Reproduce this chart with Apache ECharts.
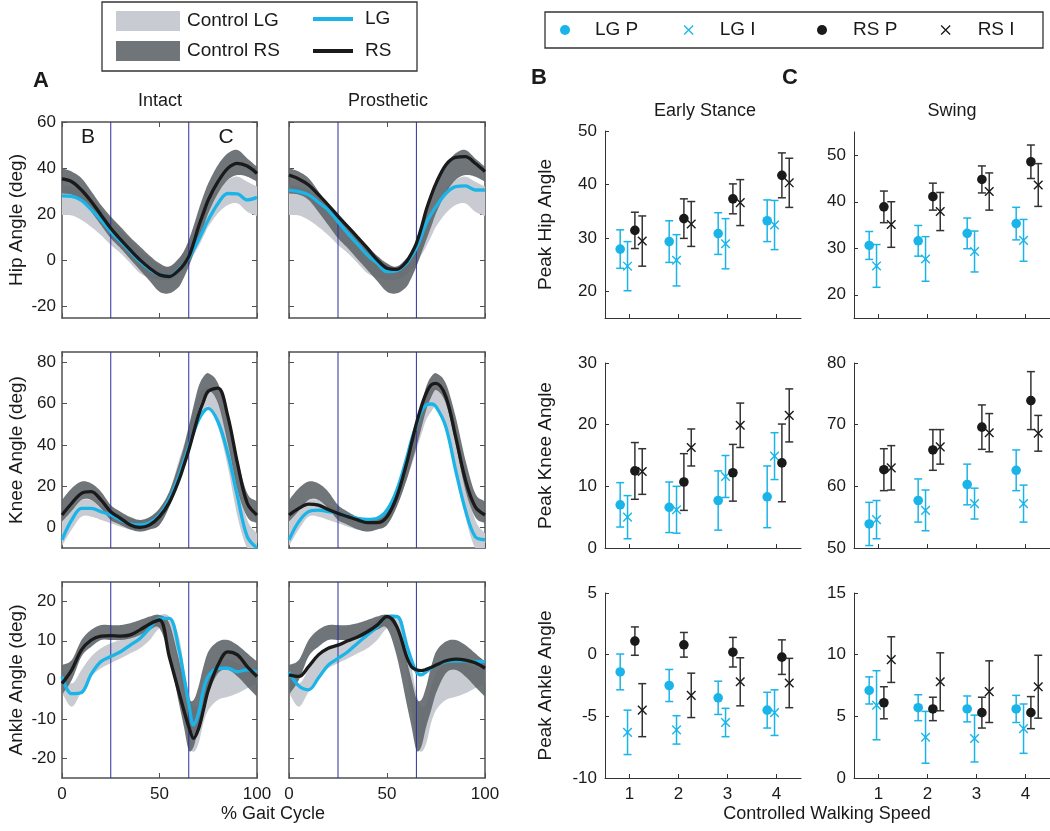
<!DOCTYPE html>
<html><head><meta charset="utf-8">
<script src="https://cdn.jsdelivr.net/npm/echarts@6/dist/echarts.min.js"></script>
<style>html,body{margin:0;padding:0;background:#fff}#c{width:1050px;height:831px}</style>
</head><body><div id="c"></div>
<script>
// ---------------- DATA ----------------
const pct = [0,5,10,15,20,25,30,35,40,45,50,55,60,62.5,65,67.5,70,72.5,75,80,85,90,95,100];
const phaseLines = [25, 65];
const gaitTicks = [0, 50, 100];
const hipTicks = [-20, 0, 20, 40, 60];
const kneeTicks = [0, 20, 40, 60, 80];
const ankleTicks = [-20, -10, 0, 10, 20];

const hipIntactRS = [35.3,34.1,30.5,25.5,19.7,13.9,9.1,4.5,0.2,-3.4,-6.3,-7,-4.2,-1.8,1.6,7.5,14.6,20.5,26.2,34.1,39.9,42.1,40.9,37.7];
const hipIntactLG = [28,27.8,26,22,17.5,12.5,8.1,3.8,-0.5,-3.9,-6.3,-6.8,-3.9,-1.5,0.9,4.8,8.8,13.2,17.5,24.7,29,28.8,26.2,27.3];
const hipProsRS = [37,35.3,32.7,28.5,24,19.2,14.6,10,5.3,0.2,-3.4,-3.9,-0.5,3,7.4,14,21.8,28,33.4,41.4,44.7,45,42.1,38.5];
const hipProsLG = [30.5,29.8,28.4,25.2,21.8,16.8,11.7,7,2.3,-1.3,-4.9,-4.5,-1.3,1.8,5.3,10.5,16.1,20,23.3,29,32,32.3,30.5,30.5];
const hipCtrlRSHi = [40,38.5,35.6,30,24,19,14.6,10,6,2,-1.3,-2.7,0.9,4,8.8,15,21.8,28,33.4,41.4,46.4,47.9,44.2,40.6];
const hipCtrlRSLo = [29,28.5,26.2,21,15.3,9.6,5.3,0.5,-4.2,-9,-13.6,-14.3,-11.4,-7.5,-2.7,3,8.8,14.5,20.4,29.1,34.9,37,36.3,34.1];
const hipCtrlLGHi = [32.7,32,30.5,27,22.5,17.5,13.2,8.8,4.5,1,-2,-2.7,0.9,3.8,7.4,11.7,16.1,20.5,24.7,31.2,34.9,36.3,34.1,32];
const hipCtrlLGLo = [19.7,19.5,17.5,14.5,10.9,6.7,3.1,-1.2,-5.6,-7.5,-8.5,-8.5,-6.3,-4,-1.3,2.3,6,10.3,14.6,20.4,24,24.7,21.1,19.2];

const kneeIntactRS = [6,11.7,16.5,17.3,13.3,7.6,4.4,1.2,0,1.2,5.2,12,23,30,37.5,46,54.5,61,66,67.5,54,31,11.7,6];
const kneeIntactLG = [-6,3.6,9.2,9.2,7.6,6,3.6,1.6,1.2,2.3,6,13.5,25,32,39.1,46,52,56,57.7,51.2,35.9,14.9,-4.5,-10];
const kneeProsRS = [6,9.2,11.3,10.8,8.7,6.8,5.2,3.6,2.3,2.3,5.2,14.9,31,40.7,50.4,58.5,65,69,69.8,63.4,44,23,10,6];
const kneeProsLG = [-6,2.8,7.6,8.4,7.6,6.8,5.5,4.4,3.9,4.4,8.4,18.1,33.5,42.4,49.6,56.1,59.3,59.8,58.5,48.8,27.8,8.4,-4.5,-6];
const kneeCtrlRSHi = [13.3,19,22.2,21.3,17.3,10.8,7.6,5,3.6,5,9.2,17.3,31,39,48.8,59,68.2,73,74.7,69.8,53.7,32.7,16.5,12.5];
const kneeCtrlRSLo = [2.8,8,13.3,13.3,9.2,3.6,1.2,-1,-2,-1,1.2,10,23,31,39.1,48,56.9,63,66.6,60.1,40.7,18.1,5,2];
const kneeCtrlLGHi = [3.6,10,13.3,13.3,10.8,8.4,6,4.5,3.6,5,9.2,17,32.7,40,48.8,57,64.2,67,67.4,61.7,44,21.3,3.6,-3];
const kneeCtrlLGLo = [-9,-1,5.2,5.2,3.6,2,0.3,-1,-2,-1,1.2,10,23,30,37.5,45,52.1,56,58.5,48.8,29.4,5.2,-10,-10];

const ankleIntactRS = [-0.9,2.6,7.7,10.2,11.2,11.3,11.2,11.5,12.8,14.3,15.3,6,-3.2,-7.7,-11.9,-14.9,-12.5,-7.7,-2.6,3.8,7.2,6.4,3.4,0.9];
const ankleIntactLG = [0.9,-3.5,-3.2,1.5,4.7,6,7.2,8.9,10.6,13.2,15.7,15.7,7.7,0.9,-6,-11.5,-8.5,-2.6,0.9,3,3,2.1,2.6,2.1];
const ankleProsRS = [1.3,0.9,3.4,6.4,8.1,8.9,10,11,12.3,14,16.2,13.6,6,3.4,2.6,2.4,2.7,3.2,3.8,4.9,5.3,5.1,4.4,3];
const ankleProsLG = [2,-1.5,-2.5,0.5,3.8,5.5,7.2,9.4,11.5,13.6,16.2,16.2,8.9,5.1,2.1,1.3,2.1,3,3.8,4.7,4.9,4.9,4.7,4.7];
const ankleCtrlRSHi = [3.8,5.1,10.2,12.8,14,14,14,14.5,15.3,16.2,16.6,14.5,5.1,0,-4.7,-5.1,-1.7,3.4,7.2,9.8,10.2,8.9,6.8,4.7];
const ankleCtrlRSLo = [-3.8,0,6,8.5,10.2,10.2,10.2,10.6,11.5,12.8,13.2,6,-6,-11.9,-17.9,-17,-11.9,-7.7,-3.4,1.7,2.6,0.9,-1.7,-4.3];
const ankleCtrlLGHi = [2.6,-0.9,2.6,6,8.1,9.4,10.2,11.5,13.2,15.3,16.6,16.2,11,3.4,-3.4,-6.8,-6,-1.7,1.7,4.3,5.1,4.3,3.4,2.6];
const ankleCtrlLGLo = [-3.4,-6.8,-3,0.9,3,4.3,5.5,6.8,8.1,10.2,13.2,13.2,2.6,-7.7,-16.2,-18.3,-16.2,-11,-7.7,-5.1,-4.3,-3.4,-2.1,-0.9];

// Peak values: rows = LG P, LG I, RS P, RS I ; columns = speed 1..4
const speeds = [1, 2, 3, 4];
const groupNames = ['LG P', 'LG I', 'RS P', 'RS I'];
const esHipTicks = [20, 30, 40, 50];
const swHipTicks = [20, 30, 40, 50];
const esKneeTicks = [0, 10, 20, 30];
const swKneeTicks = [50, 60, 70, 80];
const esAnkleTicks = [-10, -5, 0, 5];
const swAnkleTicks = [0, 5, 10, 15];

const esHipMean = [[27.9,29.3,30.8,33.2],[24.7,25.8,28.9,32.4],[31.4,33.6,37.3,41.7],[29.4,32.6,36.6,40.3]];
const esHipErr  = [[3.6,3.9,3.9,3.9],[4.6,4.8,4.7,4.6],[3.4,3.7,2.8,4.2],[4.7,4.2,4.3,4.6]];
const swHipMean = [[30.6,31.6,33.2,35.3],[26.2,27.7,29.3,31.7],[38.9,41.1,44.8,48.6],[35.1,37.9,42.2,43.6]];
const swHipErr  = [[3,3.3,3.3,3.5],[4.6,4.8,4.4,4.5],[3.4,2.9,2.9,3.6],[4.9,4.1,4,4.6]];
const esKneeMean = [[7,6.6,7.7,8.3],[5,6.2,11.6,14.9],[12.5,10.7,12.2,13.8],[12.4,16.3,19.9,21.5]];
const esKneeErr  = [[3.6,4.1,4.8,5],[3.5,3.8,3.4,3.8],[4.6,4.6,4.6,6.3],[3.7,3,3.6,4.3]];
const swKneeMean = [[53.9,57.7,60.3,62.6],[54.6,56.1,57.2,57.2],[62.7,65.9,69.6,73.9],[63,66.4,68.7,68.6]];
const swKneeErr  = [[3.5,3.5,3.3,3.3],[3.1,3.3,2.5,3],[3.4,3.3,3.6,4.7],[3.6,2.8,3.1,2.9]];
const esAnkleMean = [[-1.4,-2.5,-3.5,-4.5],[-6.3,-6.1,-5.5,-4.7],[1.1,0.8,0.2,-0.2],[-4.5,-3.3,-2.2,-2.3]];
const esAnkleErr  = [[1.45,1.3,1.35,1.45],[1.8,1.15,1.15,1.85],[1.15,1,1.2,1.4],[2.15,1.8,1.95,2]];
const swAnkleMean = [[7.1,5.7,5.6,5.6],[5.9,3.3,3.2,4],[6.1,5.6,5.3,5.3],[9.6,7.8,7,7.4]];
const swAnkleErr  = [[1.1,1.05,1.05,1.1],[2.8,2.1,1.9,2],[1.3,0.95,1.25,1.3],[1.85,2.35,2.5,2.55]];

// ---------------- STYLE / LAYOUT ----------------
const FONT = "'Liberation Sans', Arial, Helvetica, sans-serif";
const TXT = '#1a1a1a';
const C_LG = '#1ab4e8', C_RS = '#1a1a1a', C_RS_ERR = '#333333';
const C_CLG = '#c8ccd2', C_CRS = 'rgba(96,102,106,0.9)', C_PHASE = '#2b2f9c';
const groupOffsets = [-0.19, -0.04, 0.11, 0.26];
const groupKinds = ['dot', 'x', 'dot', 'x'];
const groupColors = [C_LG, C_LG, C_RS, C_RS];
const groupErrColors = [C_LG, C_LG, C_RS_ERR, C_RS_ERR];

const leftCols = [{left: 62, width: 195}, {left: 289, width: 196}];
const leftRows = [{top: 122, height: 196}, {top: 352, height: 196}, {top: 582, height: 196}];
const rightCols = [{left: 605, width: 196}, {left: 854, width: 196}];
const rightRows = [[{top: 131, height: 187}, {top: 132, height: 186}],
                   [{top: 363, height: 185}, {top: 363, height: 185}],
                   [{top: 593, height: 185}, {top: 593, height: 185}]];

const option = {
  animation: false, backgroundColor: '#ffffff',
  grid: [], xAxis: [], yAxis: [], series: [], legend: [], graphic: []
};

function interp(xs, ys, n) {
  const N = xs.length, out = [];
  const m = ys.map((y, i) => {
    if (i === 0) return (ys[1] - ys[0]) / (xs[1] - xs[0]);
    if (i === N - 1) return (ys[i] - ys[i - 1]) / (xs[i] - xs[i - 1]);
    return (ys[i + 1] - ys[i - 1]) / (xs[i + 1] - xs[i - 1]);
  });
  for (let i = 0; i < N - 1; i++) {
    const h = xs[i + 1] - xs[i];
    for (let k = 0; k < n; k++) {
      const s = k / n, s2 = s * s, s3 = s2 * s;
      const y = (2*s3 - 3*s2 + 1) * ys[i] + (s3 - 2*s2 + s) * h * m[i] + (-2*s3 + 3*s2) * ys[i + 1] + (s3 - s2) * h * m[i + 1];
      out.push([xs[i] + s * h, y]);
    }
  }
  out.push([xs[N - 1], ys[N - 1]]);
  return out;
}

function bandRender(lo, hi, color) {
  return function (params, api) {
    if (params.dataIndex !== 0) return null;
    const up = interp(pct, hi, 8).map(p => api.coord(p));
    const dn = interp(pct, lo, 8).map(p => api.coord(p)).reverse();
    const cs = params.coordSys;
    return {
      type: 'polygon', shape: {points: up.concat(dn)}, style: {fill: color},
      clipPath: {type: 'rect', shape: {x: cs.x, y: cs.y, width: cs.width, height: cs.height}}
    };
  };
}

function phaseRender(ymin, ymax) {
  return function (params, api) {
    const v = api.value(0);
    const a = api.coord([v, ymin]), b = api.coord([v, ymax]);
    return {type: 'line', shape: {x1: a[0], y1: a[1], x2: b[0], y2: b[1]}, style: {stroke: C_PHASE, lineWidth: 1}};
  };
}

function errRender(kind, color, ecolor) {
  return function (params, api) {
    const x = api.value(0), m = api.value(1), e = api.value(2);
    const pc = api.coord([x, m]), pt = api.coord([x, m + e]), pb = api.coord([x, m - e]);
    const cw = 4, ls = {stroke: ecolor, lineWidth: 1.5};
    const ch = [
      {type: 'line', shape: {x1: pt[0], y1: pt[1], x2: pb[0], y2: pb[1]}, style: ls},
      {type: 'line', shape: {x1: pt[0] - cw, y1: pt[1], x2: pt[0] + cw, y2: pt[1]}, style: ls},
      {type: 'line', shape: {x1: pb[0] - cw, y1: pb[1], x2: pb[0] + cw, y2: pb[1]}, style: ls}
    ];
    if (kind === 'dot') {
      ch.push({type: 'circle', shape: {cx: pc[0], cy: pc[1], r: 4.8}, style: {fill: color}});
    } else {
      const s = 4.3, xs = {stroke: color, lineWidth: 1.4};
      ch.push({type: 'line', shape: {x1: pc[0] - s, y1: pc[1] - s, x2: pc[0] + s, y2: pc[1] + s}, style: xs});
      ch.push({type: 'line', shape: {x1: pc[0] - s, y1: pc[1] + s, x2: pc[0] + s, y2: pc[1] - s}, style: xs});
    }
    return {type: 'group', children: ch};
  };
}

const labelStyle = {fontSize: 17, color: TXT, fontFamily: FONT};

function addLeft(r, c, ymin, ymax, ticks, yName, lg, rs, clgLo, clgHi, crsLo, crsHi) {
  const gi = option.grid.length;
  option.grid.push({left: leftCols[c].left, top: leftRows[r].top, width: leftCols[c].width, height: leftRows[r].height});
  const axLine = {show: true, onZero: false, lineStyle: {color: '#505050', width: 1.5}};
  const tick = (vals) => ({show: true, inside: true, length: 5, customValues: vals, lineStyle: {color: '#505050', width: 1}});
  const xi = option.xAxis.length;
  option.xAxis.push({
    type: 'value', gridIndex: gi, min: 0, max: 100, position: 'bottom',
    axisLine: axLine, axisTick: tick(gaitTicks), splitLine: {show: false},
    axisLabel: {show: r === 2, customValues: gaitTicks, margin: 8, ...labelStyle}
  });
  option.xAxis.push({
    type: 'value', gridIndex: gi, min: 0, max: 100, position: 'top',
    axisLine: axLine, axisTick: tick(gaitTicks), splitLine: {show: false}, axisLabel: {show: false}
  });
  const yi = option.yAxis.length;
  option.yAxis.push({
    type: 'value', gridIndex: gi, min: ymin, max: ymax, position: 'left',
    axisLine: axLine, axisTick: tick(ticks), splitLine: {show: false},
    axisLabel: {show: c === 0, customValues: ticks, margin: 6, ...labelStyle},
    name: c === 0 ? yName : '', nameLocation: 'middle', nameGap: 36,
    nameTextStyle: {fontSize: 19, color: TXT, fontFamily: FONT}
  });
  option.yAxis.push({
    type: 'value', gridIndex: gi, min: ymin, max: ymax, position: 'right',
    axisLine: axLine, axisTick: tick(ticks), splitLine: {show: false}, axisLabel: {show: false}
  });
  const base = {xAxisIndex: xi, yAxisIndex: yi, silent: true};
  option.series.push({
    ...base, type: 'custom', name: 'Control LG', z: 1, itemStyle: {color: C_CLG},
    data: pct.map((t, i) => [t, clgLo[i], clgHi[i]]), encode: {x: 0, y: [1, 2]},
    renderItem: bandRender(clgLo, clgHi, C_CLG)
  });
  option.series.push({
    ...base, type: 'custom', name: 'Control RS', z: 2, itemStyle: {color: C_CRS},
    data: pct.map((t, i) => [t, crsLo[i], crsHi[i]]), encode: {x: 0, y: [1, 2]},
    renderItem: bandRender(crsLo, crsHi, C_CRS)
  });
  option.series.push({
    ...base, type: 'custom', name: 'phase', z: 3,
    data: phaseLines.map(v => [v]), encode: {x: 0},
    renderItem: phaseRender(ymin, ymax)
  });
  option.series.push({
    ...base, type: 'line', name: 'LG', z: 4, smooth: 0.35, symbol: 'none', showSymbol: false,
    lineStyle: {color: C_LG, width: 3.3}, itemStyle: {color: C_LG},
    data: pct.map((t, i) => [t, lg[i]])
  });
  option.series.push({
    ...base, type: 'line', name: 'RS', z: 5, smooth: 0.35, symbol: 'none', showSymbol: false,
    lineStyle: {color: C_RS, width: 3.3}, itemStyle: {color: C_RS},
    data: pct.map((t, i) => [t, rs[i]])
  });
}

function addRight(r, c, ymin, ymax, ticks, yName, means, errs) {
  const gi = option.grid.length;
  const rr = rightRows[r][c];
  option.grid.push({left: rightCols[c].left, top: rr.top, width: rightCols[c].width, height: rr.height});
  const axLine = {show: true, onZero: false, lineStyle: {color: '#333333', width: 1}};
  const xi = option.xAxis.length;
  option.xAxis.push({
    type: 'value', gridIndex: gi, min: 0.5, max: 4.5, position: 'bottom',
    axisLine: axLine, splitLine: {show: false},
    axisTick: {show: true, inside: true, length: 4, customValues: speeds, lineStyle: {color: '#333'}},
    axisLabel: {show: r === 2, customValues: speeds, margin: 8, ...labelStyle}
  });
  const yi = option.yAxis.length;
  option.yAxis.push({
    type: 'value', gridIndex: gi, min: ymin, max: ymax, position: 'left',
    axisLine: axLine, splitLine: {show: false},
    axisTick: {show: true, inside: true, length: 4, customValues: ticks, lineStyle: {color: '#333'}},
    axisLabel: {show: true, customValues: ticks, margin: 8, ...labelStyle},
    name: yName, nameLocation: 'middle', nameGap: 50,
    nameTextStyle: {fontSize: 19, color: TXT, fontFamily: FONT}
  });
  groupNames.forEach((g, k) => {
    option.series.push({
      type: 'custom', name: g, xAxisIndex: xi, yAxisIndex: yi, silent: true, z: 3 + k,
      itemStyle: {color: groupColors[k]},
      data: speeds.map((s, i) => [s + groupOffsets[k], means[k][i], errs[k][i]]),
      encode: {x: 0, y: 1},
      renderItem: errRender(groupKinds[k], groupColors[k], groupErrColors[k])
    });
  });
}

addLeft(0, 0, -25, 60, hipTicks, 'Hip Angle (deg)', hipIntactLG, hipIntactRS, hipCtrlLGLo, hipCtrlLGHi, hipCtrlRSLo, hipCtrlRSHi);
addLeft(0, 1, -25, 60, hipTicks, '', hipProsLG, hipProsRS, hipCtrlLGLo, hipCtrlLGHi, hipCtrlRSLo, hipCtrlRSHi);
addLeft(1, 0, -10, 85, kneeTicks, 'Knee Angle (deg)', kneeIntactLG, kneeIntactRS, kneeCtrlLGLo, kneeCtrlLGHi, kneeCtrlRSLo, kneeCtrlRSHi);
addLeft(1, 1, -10, 85, kneeTicks, '', kneeProsLG, kneeProsRS, kneeCtrlLGLo, kneeCtrlLGHi, kneeCtrlRSLo, kneeCtrlRSHi);
addLeft(2, 0, -25, 25, ankleTicks, 'Ankle Angle (deg)', ankleIntactLG, ankleIntactRS, ankleCtrlLGLo, ankleCtrlLGHi, ankleCtrlRSLo, ankleCtrlRSHi);
addLeft(2, 1, -25, 25, ankleTicks, '', ankleProsLG, ankleProsRS, ankleCtrlLGLo, ankleCtrlLGHi, ankleCtrlRSLo, ankleCtrlRSHi);

addRight(0, 0, 15, 50, esHipTicks, 'Peak Hip Angle', esHipMean, esHipErr);
addRight(0, 1, 15, 55, swHipTicks, '', swHipMean, swHipErr);
addRight(1, 0, 0, 30, esKneeTicks, 'Peak Knee Angle', esKneeMean, esKneeErr);
addRight(1, 1, 50, 80, swKneeTicks, '', swKneeMean, swKneeErr);
addRight(2, 0, -10, 5, esAnkleTicks, 'Peak Ankle Angle', esAnkleMean, esAnkleErr);
addRight(2, 1, 0, 15, swAnkleTicks, '', swAnkleMean, swAnkleErr);

// ---------------- LEGENDS ----------------
function oneLegend(name, icon, left, top, w, h, pad, itemStyle) {
  const d = {name: name, icon: icon};
  if (itemStyle) d.itemStyle = itemStyle;
  return {
    data: [d], left: left, top: top, itemWidth: w, itemHeight: h, padding: 0,
    selectedMode: false, orient: 'horizontal',
    textStyle: {fontSize: 19, color: TXT, fontFamily: FONT, lineHeight: 20, padding: [0, 0, 0, pad]}
  };
}
const xIcon = 'path://M0,0L10,10M10,0L0,10';
option.legend.push(oneLegend('Control LG', 'rect', 116, 11, 64, 20, 2));
option.legend.push(oneLegend('Control RS', 'rect', 116, 41, 64, 20, 2));
option.legend.push(oneLegend('LG', 'rect', 313, 9, 40, 4, 7));
option.legend.push(oneLegend('RS', 'rect', 313, 41, 40, 4, 7));
option.legend.push(oneLegend('LG P', 'circle', 560, 20, 10, 10, 20));
option.legend.push(oneLegend('LG I', xIcon, 683.5, 20, 9, 9, 21.5, {color: 'rgba(0,0,0,0)', borderColor: C_LG, borderWidth: 1.3}));
option.legend.push(oneLegend('RS P', 'circle', 817, 20, 10, 10, 21));
option.legend.push(oneLegend('RS I', xIcon, 940.5, 20, 9, 9, 22.5, {color: 'rgba(0,0,0,0)', borderColor: C_RS, borderWidth: 1.3}));

// ---------------- TEXT / BOXES ----------------
function txt(str, x, y, size, bold) {
  return {
    type: 'text', x: x, y: y, silent: true, z: 10,
    style: {text: str, fontSize: size, fontFamily: FONT, fontWeight: bold ? 'bold' : 'normal', fill: TXT,
            align: 'center', verticalAlign: 'middle', textAlign: 'center', textVerticalAlign: 'middle'}
  };
}
option.graphic = [
  {type: 'rect', shape: {x: 102, y: 2, width: 315, height: 69}, style: {fill: 'none', stroke: '#333', lineWidth: 1.3}, silent: true},
  {type: 'rect', shape: {x: 545, y: 12, width: 498, height: 36}, style: {fill: 'none', stroke: '#333', lineWidth: 1.3}, silent: true},
  txt('A', 41, 81, 22, true),
  txt('B', 539, 78, 22, true),
  txt('C', 790, 78, 22, true),
  txt('Intact', 160, 101, 18, false),
  txt('Prosthetic', 388, 101, 18, false),
  txt('Early Stance', 705, 111, 18, false),
  txt('Swing', 952, 111, 18, false),
  txt('B', 88, 137, 21, false),
  txt('C', 226, 137, 21, false),
  txt('% Gait Cycle', 273, 814, 18, false),
  txt('Controlled Walking Speed', 827, 814, 18, false)
];

const chart = echarts.init(document.getElementById('c'), null, {renderer: 'canvas'});
chart.setOption(option);
</script>
</body></html>
